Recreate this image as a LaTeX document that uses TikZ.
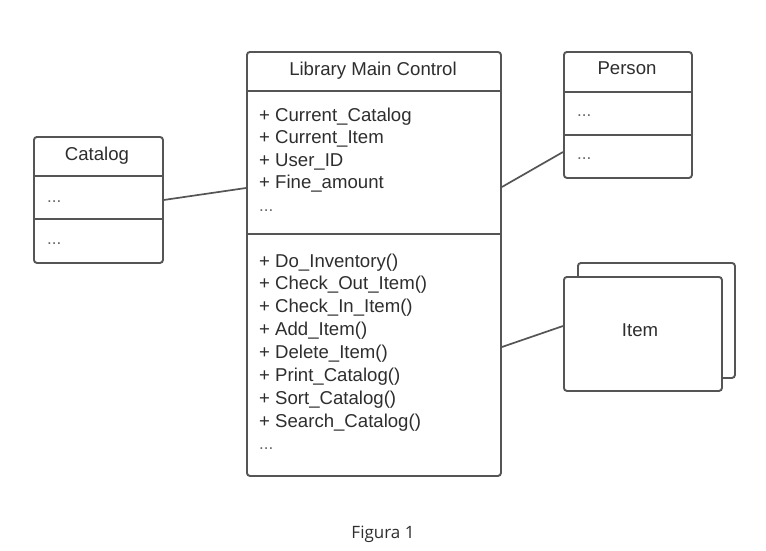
\documentclass[tikz,border=0pt]{standalone}
\usepackage{fontspec}
\setmainfont{Liberation Sans}
\newfontfamily\capfont{Open Sans}
\usetikzlibrary{calc}
\definecolor{linec}{HTML}{555555}
\definecolor{txtc}{HTML}{2E2E2E}
\definecolor{dotc}{HTML}{666666}
\begin{document}
\begin{tikzpicture}[x=1pt,y=-1pt,
  box/.style={draw=linec, line width=1.9pt, rounded corners=3pt, fill=white, anchor=north west, inner sep=0pt},
  div/.style={draw=linec, line width=1.9pt},
  conn/.style={draw=linec, line width=1.7pt},
  lbl/.style={text=txtc, font=\fontsize{18.6}{22.8}\selectfont, inner sep=0pt, anchor=base},
  lst/.style={text=txtc, font=\fontsize{18.6}{22.8}\selectfont, inner sep=0pt, anchor=base west},
  dots/.style={text=dotc, font=\fontsize{17}{20}\selectfont, inner sep=0pt, anchor=base west}]
\useasboundingbox[fill=white] (0,0) rectangle (766,550);

% Main class
\node[box, minimum width=254pt, minimum height=424pt] (main) at (246,51) {};
\draw[div] ($(main.north west)+(0,40)$) -- ($(main.north east)+(0,40)$);
\draw[div] ($(main.north west)+(0,183)$) -- ($(main.north east)+(0,183)$);
\node[lbl] (maint) at (373,75) {Library Main Control};
\foreach \t [count=\i] in {Current\_Catalog, Current\_Item, User\_ID, Fine\_amount}
  \node[lst] (attr\i) at (259,{121.5+(\i-1)*22.3}) {+ \t};
\node[dots] (mdots1) at (259,211) {...};
\foreach \t [count=\i] in {Do\_Inventory(), Check\_Out\_Item(), Check\_In\_Item(), Add\_Item(), Delete\_Item(), Print\_Catalog(), Sort\_Catalog(), Search\_Catalog()}
  \node[lst] (meth\i) at (259,{267+(\i-1)*22.9}) {+ \t};
\node[dots] (mdots2) at (259,449) {...};

% Catalog
\node[box, minimum width=129pt, minimum height=126pt] (catalog) at (33,136) {};
\draw[div] ($(catalog.north west)+(0,40)$) -- ($(catalog.north east)+(0,40)$);
\draw[div] ($(catalog.north west)+(0,83)$) -- ($(catalog.north east)+(0,83)$);
\node[lbl] (catt) at (97,160) {Catalog};
\node[dots] (cd1) at (47,202) {...};
\node[dots] (cd2) at (47,244) {...};

% Person
\node[box, minimum width=128pt, minimum height=126pt] (person) at (563,51) {};
\draw[div] ($(person.north west)+(0,41)$) -- ($(person.north east)+(0,41)$);
\draw[div] ($(person.north west)+(0,84)$) -- ($(person.north east)+(0,84)$);
\node[lbl] (perst) at (627,74) {Person};
\node[dots] (pd1) at (577,116) {...};
\node[dots] (pd2) at (577,159) {...};

% Item (stacked)
\node[box, minimum width=157pt, minimum height=115pt] (itemback) at (577,262) {};
\node[box, minimum width=158pt, minimum height=114pt] (item) at (563,276) {};
\node[lbl] (itemt) at (640,336) {Item};

% Connectors
\draw[conn] (catalog.east) -- ($(main.north west)+(0,137)$);
\draw[conn] ($(main.north east)+(0,136)$) -- ($(person.north west)+(0,101)$);
\draw[conn] ($(main.north east)+(0,296)$) -- ($(item.north west)+(0,50)$);

% Caption
\node[text=txtc, font=\capfont\fontsize{17}{20}\selectfont, inner sep=0pt, anchor=base] (cap) at (383,538) {Figura 1};
\end{tikzpicture}
\end{document}
